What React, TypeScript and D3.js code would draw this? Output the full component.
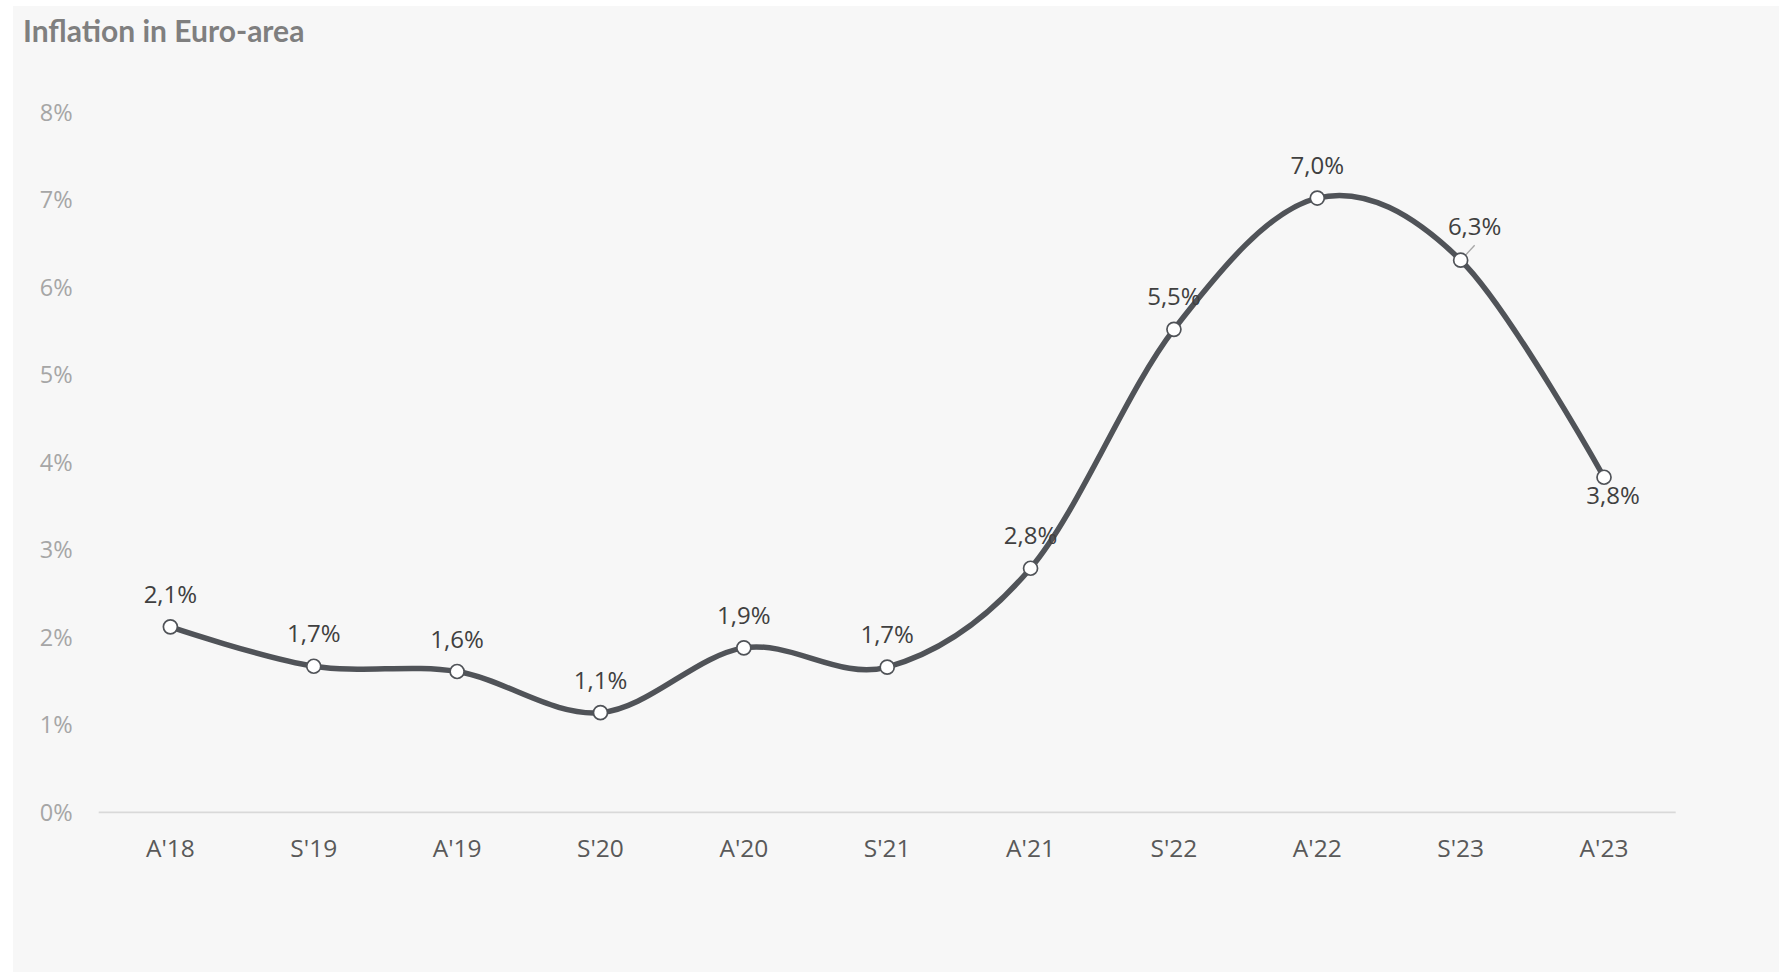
import React from "react";
import * as d3 from "d3";

const categories = ["A'18", "S'19", "A'19", "S'20", "A'20", "S'21", "A'21", "S'22", "A'22", "S'23", "A'23"];
const inflation = [2.12, 1.67, 1.61, 1.14, 1.88, 1.66, 2.79, 5.52, 7.02, 6.31, 3.83];
const yTicks = [0, 1, 2, 3, 4, 5, 6, 7, 8];
const title = "Inflation in Euro-area";

const W = 1779;
const H = 974;

export default function App() {
  const x = d3.scalePoint<string>().domain(categories).range([98.7, 1675.7]).padding(0.5);
  const y = d3.scaleLinear().domain([0, 8]).range([812.4, 112.3]);
  const line = d3
    .line<number>()
    .x((_, i) => x(categories[i]) as number)
    .y((d) => y(d))
    .curve(d3.curveCardinal.tension(0));
  const fmt = (v: number) => v.toFixed(1).replace(".", ",") + "%";

  return (
    <svg
      width={W}
      height={H}
      style={{ position: "fixed", left: 0, top: 0, display: "block" }}
      fontFamily="'Open Sans', sans-serif"
    >
      <rect x={0} y={0} width={W} height={H} fill="#ffffff" />
      <rect x={13} y={6} width={W - 13} height={H - 8} fill="#f7f7f7" />
      <text x={23} y={41.5} fontFamily="Lato, sans-serif" fontWeight={700} fontSize={30} fill="#7f7f7f">
        {title}
      </text>
      {yTicks.map((t) => (
        <text key={t} x={72.7} y={y(t) + 8.5} textAnchor="end" fontSize={23.5} fill="#a6a6a6">
          {t}%
        </text>
      ))}
      <line x1={98.7} x2={1675.7} y1={y(0)} y2={y(0)} stroke="#d9d9d9" strokeWidth={1.8} />
      {categories.map((c) => (
        <text key={c} x={x(c)} y={857} textAnchor="middle" fontSize={24.5} fill="#595959">
          {c}
        </text>
      ))}
      <path d={line(inflation) || ""} fill="none" stroke="#505358" strokeWidth={5.5} />
      {inflation.map((v, i) => {
        const cx = x(categories[i]) as number;
        const cy = y(v);
        const isLast = i === inflation.length - 1;
        const isS23 = categories[i] === "S'23";
        let lx = cx;
        let ly = cy - 24;
        if (isLast) {
          lx = cx + 9;
          ly = cy + 27;
        } else if (isS23) {
          lx = cx + 14;
          ly = cy - 25;
        }
        return (
          <g key={i}>
            {isS23 && (
              <line x1={cx + 3} y1={cy - 3} x2={cx + 14} y2={cy - 15} stroke="#a6a6a6" strokeWidth={1.3} />
            )}
            <circle cx={cx} cy={cy} r={7} fill="#ffffff" stroke="#505358" strokeWidth={1.7} />
            <text x={lx} y={ly} textAnchor="middle" fontSize={24} fill="#404040">
              {fmt(v)}
            </text>
          </g>
        );
      })}
    </svg>
  );
}
